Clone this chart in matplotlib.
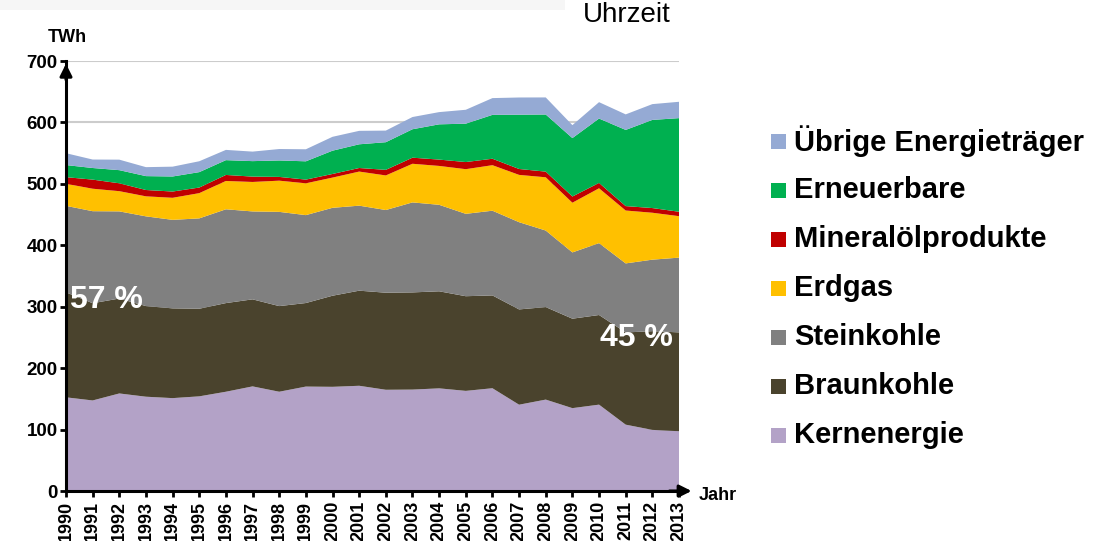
import matplotlib
matplotlib.use("Agg")
import matplotlib.pyplot as plt
from matplotlib.patches import Rectangle

plt.rcParams['font.family'] = ['Liberation Sans', 'DejaVu Sans']

years = list(range(1990, 2014))
kernenergie = [152.5, 147.4, 158.8, 153.5, 151.2, 154.1, 161.6, 170.3, 161.6, 170.0, 169.6, 171.3,
               164.8, 165.1, 167.1, 163.0, 167.3, 140.5, 148.8, 134.9, 140.6, 108.0, 99.5, 97.3]
braunkohle = [170.9, 158.3, 154.5, 147.5, 146.1, 142.6, 144.3, 141.7, 139.4, 136.0, 148.3, 154.8,
              158.0, 158.2, 158.0, 154.1, 151.1, 155.1, 150.6, 145.6, 145.9, 150.1, 160.7, 160.9]
steinkohle = [140.8, 149.8, 141.9, 146.1, 144.1, 147.1, 152.7, 143.1, 153.4, 143.1, 143.1, 138.4,
              134.6, 146.5, 140.8, 134.1, 137.9, 142.0, 124.6, 107.9, 117.0, 112.4, 116.4, 121.7]
erdgas = [35.9, 36.6, 32.9, 32.6, 35.9, 41.1, 46.1, 48.0, 50.8, 51.8, 49.2, 55.5,
          56.3, 62.9, 63.3, 72.7, 74.1, 77.0, 86.7, 80.9, 89.3, 86.1, 76.4, 67.5]
mineraloel = [10.8, 14.8, 12.8, 10.3, 10.2, 9.1, 9.8, 8.7, 6.1, 6.0, 5.9, 5.8,
              9.1, 9.9, 10.3, 11.6, 10.5, 9.6, 9.2, 10.1, 8.7, 7.2, 7.6, 7.2]
erneuerbare = [19.7, 18.9, 21.4, 22.6, 24.5, 25.1, 24.1, 25.2, 26.8, 29.8, 37.9, 38.6,
               45.0, 46.3, 57.4, 62.5, 71.4, 88.4, 93.0, 95.1, 104.8, 124.0, 143.5, 152.4]
uebrige = [19.3, 13.8, 17.1, 14.6, 16.0, 17.7, 16.7, 15.5, 18.6, 19.6, 22.6, 21.9,
           18.9, 19.9, 19.9, 22.6, 27.3, 28.0, 27.8, 21.1, 26.7, 25.3, 25.7, 26.6]

series_labels = ["Kernenergie", "Braunkohle", "Steinkohle", "Erdgas",
                 "Mineralölprodukte", "Erneuerbare", "Übrige Energieträger"]
colors = ["#b3a2c7", "#4a432d", "#808080", "#ffc000", "#c00000", "#00b050", "#95aad4"]
yticks = [0, 100, 200, 300, 400, 500, 600, 700]

W, H = 1101, 541
fig = plt.figure(figsize=(W / 100, H / 100), dpi=100)

def fx(px):
    return px / W

def fy(py):
    return 1 - py / H

# faint header band
fig.add_artist(Rectangle((0, fy(10)), fx(565), 10 / H, transform=fig.transFigure,
                         facecolor="#f6f6f6", edgecolor="none", zorder=0))

ax = fig.add_axes([fx(66), fy(491), fx(679) - fx(66), (491 - 61) / H])
ax.stackplot(years, kernenergie, braunkohle, steinkohle, erdgas, mineraloel, erneuerbare,
             uebrige, colors=colors, linewidth=0, zorder=2)
ax.set_xlim(1990, 2013)
ax.set_ylim(0, 700)
ax.set_yticks(yticks)
ax.set_yticklabels([str(v) for v in yticks], fontsize=13.5, fontweight="bold")
ax.set_xticks(years)
ax.set_xticklabels([str(y) for y in years], rotation=90, fontsize=13, fontweight="bold")
ax.yaxis.grid(True, color="#cccccc", linewidth=1.5, zorder=0)
ax.set_axisbelow(True)
for s in ["top", "right"]:
    ax.spines[s].set_visible(False)
ax.spines["left"].set_linewidth(2.2)
ax.spines["bottom"].set_linewidth(2.2)
ax.tick_params(axis="both", direction="out", length=4, width=2, pad=2)
ax.tick_params(axis="x", pad=3)

# axis arrows
ax.annotate("", xy=(0, 1.0), xytext=(0, 0.95), xycoords="axes fraction",
            arrowprops=dict(arrowstyle="-|>", color="black", lw=2.2, mutation_scale=18),
            annotation_clip=False)
ax.annotate("", xy=(1.025, 0), xytext=(0.98, 0), xycoords="axes fraction",
            arrowprops=dict(arrowstyle="-|>", color="black", lw=2.2, mutation_scale=18),
            annotation_clip=False)

fig.text(fx(48), fy(38), "TWh", fontsize=13, fontweight="bold", va="center", ha="left")
fig.text(fx(699), fy(495), "Jahr", fontsize=13, fontweight="bold", va="center", ha="left")
fig.text(fx(583), fy(22), "Uhrzeit", fontsize=20, va="baseline", ha="left")

fig.text(fx(70), fy(300), "57 %", fontsize=23, fontweight="bold", color="white",
         va="center", ha="left")
fig.text(fx(600), fy(338), "45 %", fontsize=23, fontweight="bold", color="white",
         va="center", ha="left")

# legend (top to bottom)
row_y = [141, 190, 239, 288, 337, 386, 435]
for i, (lab, col) in enumerate(zip(series_labels[::-1], colors[::-1])):
    yc = row_y[i]
    fig.add_artist(Rectangle((fx(771), fy(yc + 7.5)), 15 / W, 15 / H,
                             transform=fig.transFigure, facecolor=col, edgecolor="none"))
    fig.text(fx(794), fy(yc), lab, fontsize=21, fontweight="bold", va="center", ha="left")

fig.savefig("out.png", dpi=100)
